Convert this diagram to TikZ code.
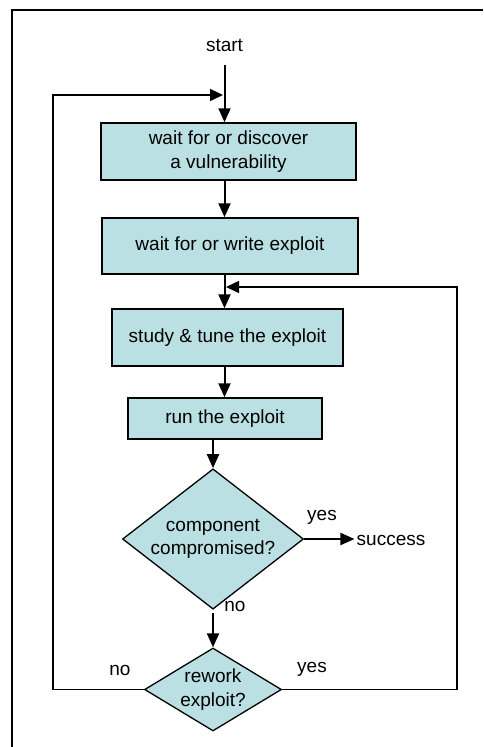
\documentclass[tikz,border=0pt]{standalone}
\usepackage{fontspec}
\setmainfont{Liberation Sans}
\usepackage{tikz}
\usetikzlibrary{arrows.meta,shapes}
\definecolor{boxblue}{RGB}{186,224,228}
\tikzstyle{stepbox}=[rectangle,draw=black,line width=1.5pt,fill=boxblue,inner sep=0pt,align=center]
\tikzstyle{decision}=[diamond,draw=black,line width=1.3pt,fill=boxblue,inner sep=-6pt,align=center]
\tikzstyle{lbl}=[inner sep=2pt]
\tikzstyle{edge} = [draw,line width=2pt,-{Triangle[length=14pt,width=12pt]}]
\tikzstyle{loopedge} = [draw,line width=1.5pt,-{Triangle[length=13pt,width=12pt]}]

\begin{document}
\begin{tikzpicture}[x=1pt,y=-1pt,font=\fontsize{19}{23.5}\selectfont]
        \useasboundingbox (0,0) rectangle (483,747);
        % frame
        \draw[line width=2pt] (11.5,747) -- (11.5,10) -- (483,10);
        \node[lbl] (start) at (224.5,45) {start};
        \node[stepbox,minimum width=255,minimum height=57] (find) at (228.5,151.5) {wait for or discover\\a vulnerability};
        \node[stepbox,minimum width=256,minimum height=56] (write) at (230,246) {wait for or write exploit};
        \node[stepbox,minimum width=231,minimum height=57] (tune) at (227.5,337.5) {study \& tune the exploit};
        \node[stepbox,minimum width=194,minimum height=41] (run) at (225,418.5) {run the exploit};
        \node[decision,minimum width=181,minimum height=126] (hit) at (213,539) {component\\compromised?};
        \node[decision,minimum width=137,minimum height=83] (rework) at (213,689.5) {rework\\exploit?};
        \node[lbl] (success) at (391,540) {success};
        \node[lbl] (yesa) at (322,517) {yes};
        \node[lbl] (noa) at (235,606) {no};
        \node[lbl] (nob) at (120,670) {no};
        \node[lbl] (yesb) at (312,669) {yes};
        \coordinate (in1) at (223,95);
        \coordinate (in2) at (226,287);
        \draw[edge,shorten <=12pt] (start) -- (find.north -| start);
        \draw[edge] (find.south -| start) -- (write.north -| start);
        \draw[edge] (write.south -| start) -- (tune.north -| start);
        \draw[edge] (tune.south -| start) -- (run.north -| start);
        \draw[edge] (run.south -| hit) -- (hit.north);
        \draw[edge,shorten <=3pt] (hit.south) -- (rework.north);
        \draw[edge] (hit.east) -- (hit.east -| success.west);
        \draw[loopedge] (rework.west) -- ++(-91,0) |- (in1);
        \draw[loopedge] (rework.east) -- ++(175,0) |- (in2);
      \end{tikzpicture}
\end{document}
